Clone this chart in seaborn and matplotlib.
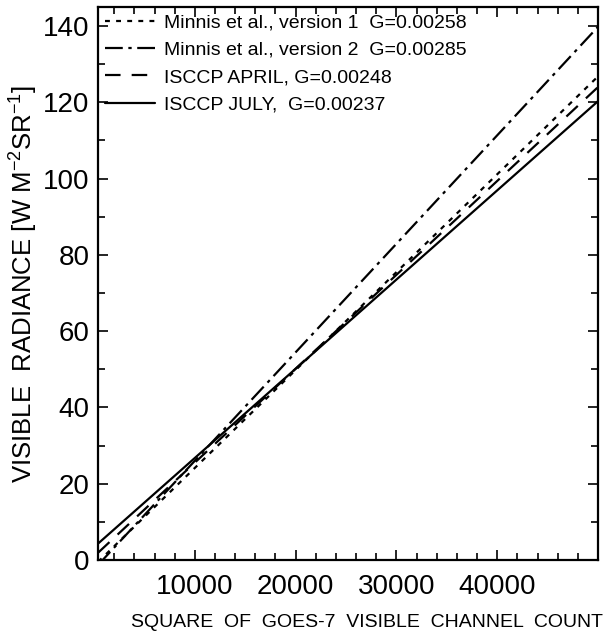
import matplotlib
matplotlib.use("Agg")
import matplotlib.pyplot as plt
import seaborn as sns
import pandas as pd
from matplotlib.ticker import MultipleLocator

sns.set_style("ticks")
plt.rcParams['font.family'] = ['Liberation Sans', 'DejaVu Sans']
plt.rcParams['mathtext.fontset'] = 'custom'
plt.rcParams['mathtext.rm'] = 'Liberation Sans'
plt.rcParams['mathtext.default'] = 'regular'
for k in ['text.color', 'axes.labelcolor', 'xtick.color', 'ytick.color', 'axes.edgecolor']:
    plt.rcParams[k] = 'black'

# Data: endpoints of each calibration line
x_counts = [400, 50000]
minnis_v1 = [-0.5, 126.8]
minnis_v2 = [-1.3, 139.8]
isccp_april = [1.9, 124.0]
isccp_july = [4.3, 120.3]

labels = ["Minnis et al., version 1  G=0.00258",
          "Minnis et al., version 2  G=0.00285",
          "ISCCP APRIL, G=0.00248",
          "ISCCP JULY,  G=0.00237"]
series = [minnis_v1, minnis_v2, isccp_april, isccp_july]
styles = [(0, (2.2, 2.8)), (0, (8, 2.5, 1.5, 2.5)), (0, (7, 5)), '-']

fig = plt.figure(figsize=(6.13, 6.38), dpi=100)
ax = fig.add_axes([0.160, 0.1223, 0.8155, 0.8667])

for lab, ys, ls in zip(labels, series, styles):
    df = pd.DataFrame({"x": x_counts, "y": ys})
    sns.lineplot(data=df, x="x", y="y", ax=ax, color="black", lw=1.6,
                 linestyle=ls, label=lab)

ax.set_xlim(400, 50000)
ax.set_ylim(0, 145)
ax.set_xticks([10000, 20000, 30000, 40000])
ax.xaxis.set_minor_locator(MultipleLocator(2000))
ax.set_yticks([0, 20, 40, 60, 80, 100, 120, 140])
ax.yaxis.set_minor_locator(MultipleLocator(10))
ax.tick_params(which='both', direction='in', top=True, right=True,
               width=1.2, color='black')
ax.tick_params(which='major', length=7, labelsize=20)
ax.tick_params(which='minor', length=5)
ax.tick_params(axis='y', pad=6)
ax.tick_params(axis='x', pad=10)
for s in ax.spines.values():
    s.set_linewidth(1.6)
    s.set_color('black')

ax.set_xlabel("")
ax.set_ylabel(r"VISIBLE  RADIANCE [W M$^{-2}$SR$^{-1}$]", fontsize=18.5, labelpad=2)
fig.text(0.598, 0.025, "SQUARE  OF  GOES-7  VISIBLE  CHANNEL  COUNT",
         ha='center', va='center', fontsize=14)

leg = ax.legend(loc='upper left', frameon=False, fontsize=14, handlelength=2.6,
                handletextpad=0.45, labelspacing=0.5, borderaxespad=0.15,
                borderpad=0.2)

fig.savefig("out.png", dpi=100)
